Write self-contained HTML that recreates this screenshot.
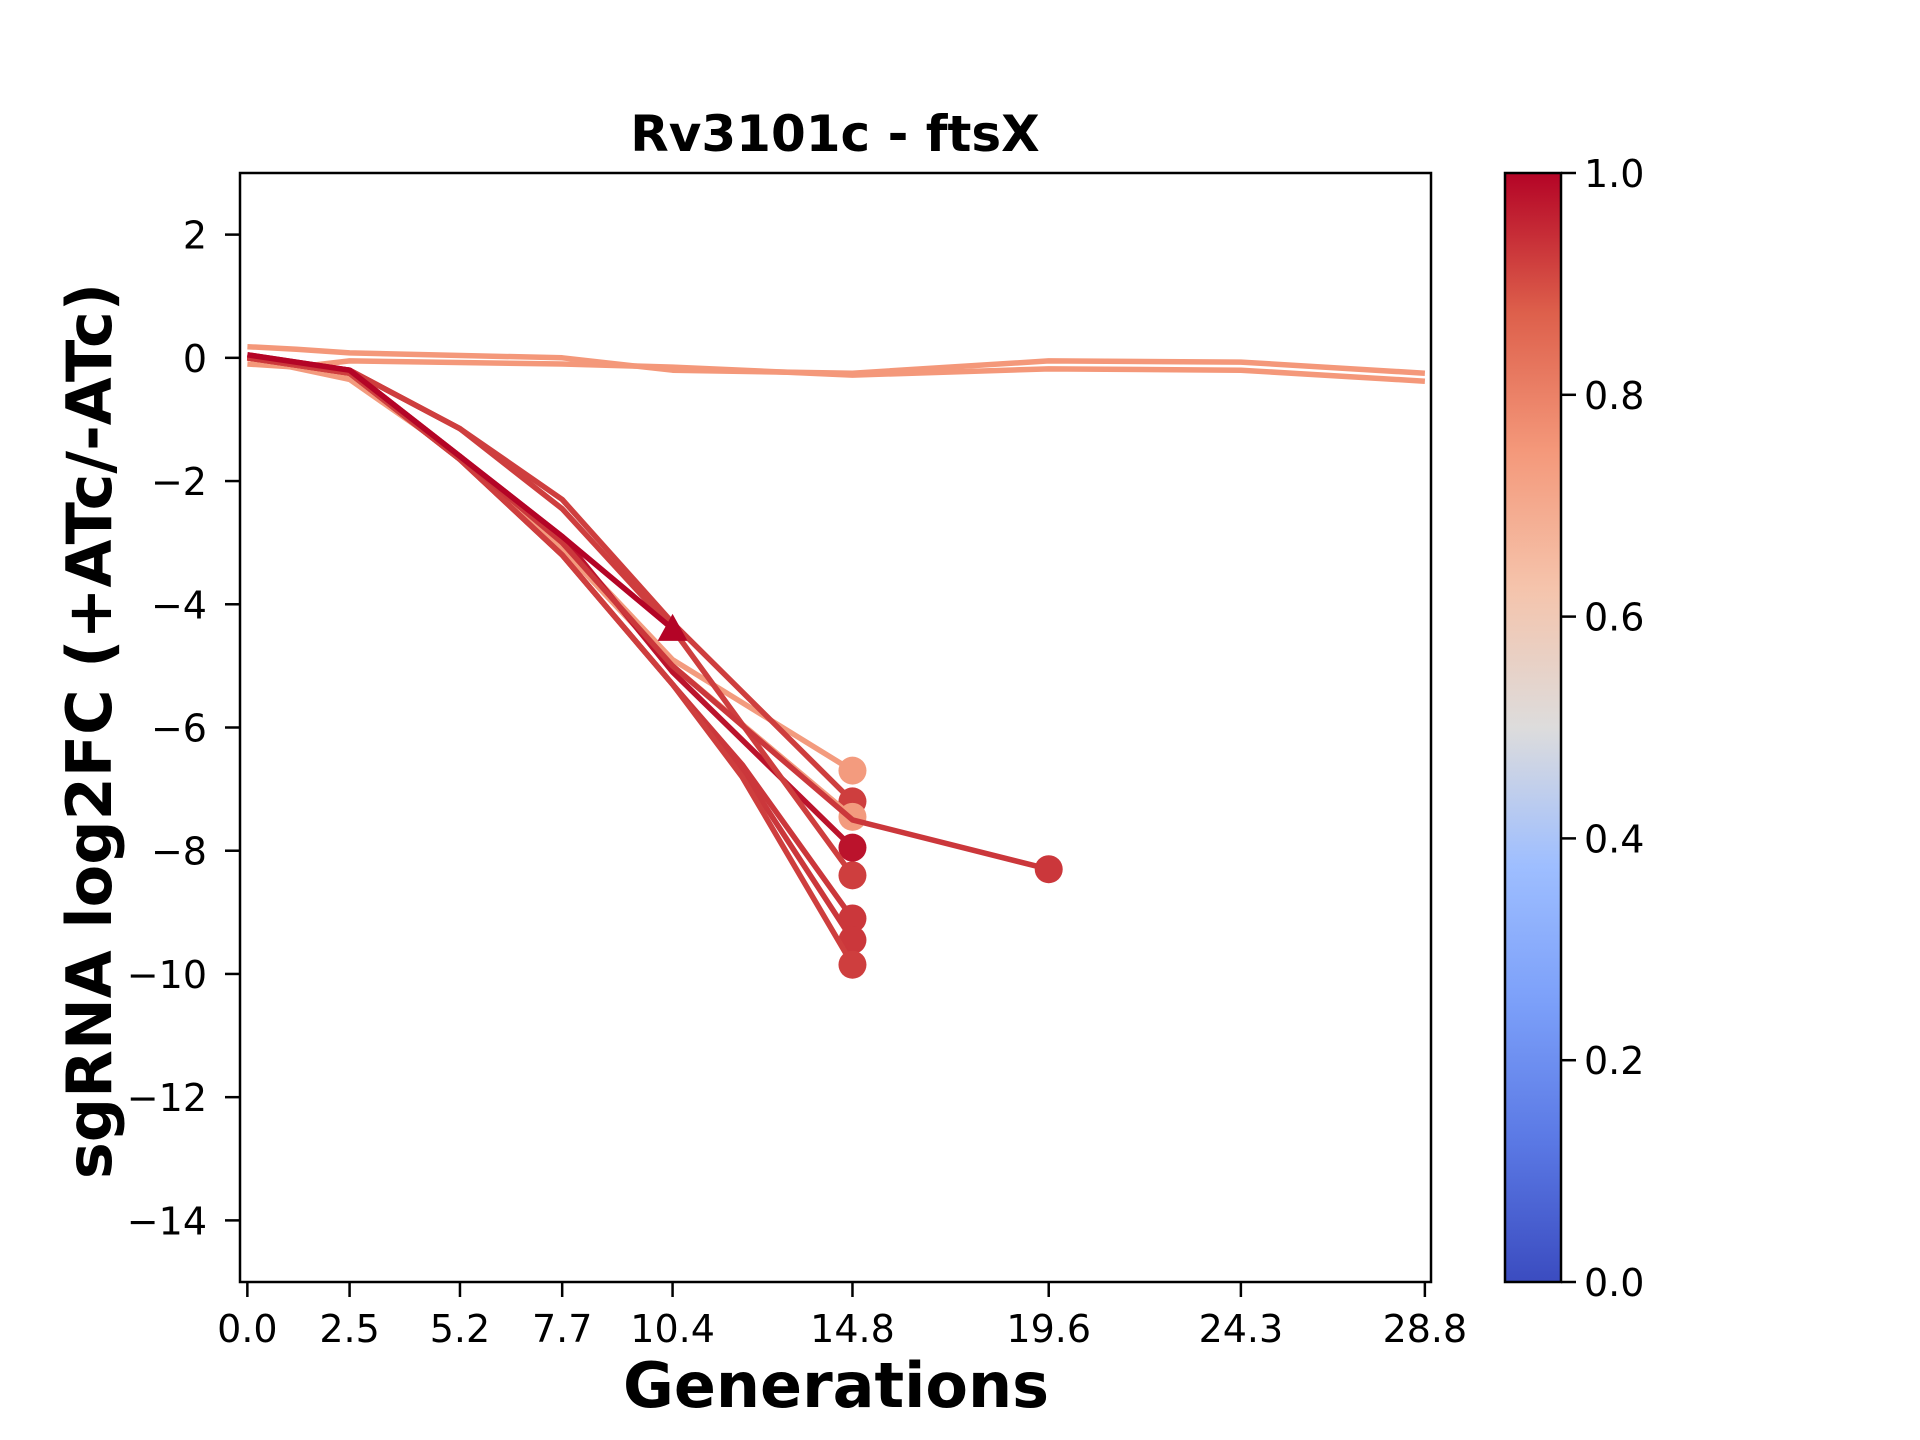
<!DOCTYPE html>
<html><head><meta charset="utf-8"><style>
html,body{margin:0;padding:0;background:#fff;}
svg{display:block;font-family:"DejaVu Sans","Liberation Sans",sans-serif;}
</style></head><body>
<svg id="chart" width="1920" height="1440" viewBox="0 0 1920 1440" xmlns="http://www.w3.org/2000/svg">
<defs>
<linearGradient id="cw" x1="0" y1="1" x2="0" y2="0">
<stop offset="0" stop-color="#3b4cc0"/><stop offset="0.125" stop-color="#5a78e4"/><stop offset="0.25" stop-color="#7b9ff9"/><stop offset="0.375" stop-color="#9ebeff"/><stop offset="0.5" stop-color="#dddcdc"/><stop offset="0.625" stop-color="#f5c4ac"/><stop offset="0.75" stop-color="#f4987a"/><stop offset="0.875" stop-color="#dd5f4b"/><stop offset="1" stop-color="#b40426"/>
</linearGradient>
<clipPath id="clip"><rect x="240" y="173" width="1191" height="1109"/></clipPath>
</defs>
<text x="835" y="151" text-anchor="middle" font-size="50" font-weight="bold">Rv3101c - ftsX</text>
<g id="plot" clip-path="url(#clip)"></g>
<rect x="240" y="173" width="1191" height="1109" fill="none" stroke="#000" stroke-width="2.5"/>
<g id="axes"></g>
<text transform="translate(111,731) rotate(-90)" text-anchor="middle" font-size="62" font-weight="bold">sgRNA log2FC (+ATc/-ATc)</text>
<text x="836" y="1407" text-anchor="middle" font-size="62" font-weight="bold">Generations</text>
<rect x="1505" y="173" width="56" height="1109" fill="url(#cw)" stroke="#000" stroke-width="2.5"/>
<g id="cbar"></g>
</svg>
<script>
const xTicks = [0.0, 2.5, 5.2, 7.7, 10.4, 14.8, 19.6, 24.3, 28.8];
const xTickLabels = ["0.0","2.5","5.2","7.7","10.4","14.8","19.6","24.3","28.8"];
const yTicks = [2, 0, -2, -4, -6, -8, -10, -12, -14];
const cbarTicks = [0.0, 0.2, 0.4, 0.6, 0.8, 1.0];
const seriesX = [
 [0,1.2,2.5,7.7,10.4,14.8,19.6,24.3,28.8],
 [0,1.2,2.5,7.7,10.4,14.8,19.6,24.3,28.8],
 [0,2.5,5.2,7.7,10.4,14.8],
 [0,2.5,5.2,7.7,10.4,14.8],
 [0,2.5,5.2,7.7,10.4,14.8],
 [0,2.5,5.2,7.7,10.4,14.8],
 [0,2.5,5.2,7.7,10.4,14.8],
 [0,2.5,5.2,7.7,10.4,12.1,14.8],
 [0,2.5,5.2,7.7,10.4,12.1,14.8],
 [0,2.5,5.2,7.7,10.4,12.1,14.8],
 [0,2.5,5.2,7.7,10.4,14.8,19.6],
 [0,2.5,5.2,7.7,10.4]
];
const seriesY = [
 [0.18,0.14,0.08,0.0,-0.2,-0.25,-0.05,-0.07,-0.25],
 [-0.1,-0.15,-0.05,-0.1,-0.15,-0.28,-0.18,-0.2,-0.38],
 [0,-0.3,-1.6,-3.0,-4.9,-6.7],
 [0,-0.2,-1.15,-2.3,-4.3,-7.2],
 [0,-0.35,-1.6,-3.1,-5.0,-7.45],
 [0.05,-0.2,-1.6,-2.9,-5.1,-7.95],
 [0,-0.2,-1.15,-2.45,-4.4,-8.4],
 [0,-0.25,-1.65,-3.2,-5.3,-6.6,-9.1],
 [0,-0.25,-1.65,-3.2,-5.3,-6.7,-9.45],
 [0,-0.25,-1.65,-3.2,-5.3,-6.8,-9.85],
 [0,-0.2,-1.6,-3.0,-5.0,-7.5,-8.3],
 [0.05,-0.2,-1.6,-2.9,-4.4]
];
const seriesScore = [0.75,0.75,0.74,0.92,0.74,0.98,0.92,0.93,0.93,0.92,0.93,1.0];
const seriesMarker = ["none","none","circle","circle","circle","circle","circle","circle","circle","circle","circle","triangle"];

const NS="http://www.w3.org/2000/svg";
const X0=240,X1=1431,Y0=173,Y1=1282,xmin=-0.18,xmax=28.95,ymin=-15,ymax=3;
function sx(v){return X0+(v-xmin)/(xmax-xmin)*(X1-X0);}
function sy(v){return Y1-(v-ymin)/(ymax-ymin)*(Y1-Y0);}
function cby(v){return Y1-v*(Y1-Y0);}
function color(s){
 const st=[[0,[59,76,192]],[0.25,[123,159,249]],[0.5,[221,220,220]],[0.75,[244,152,122]],[0.875,[221,95,75]],[1,[180,4,38]]];
 for(let i=1;i<st.length;i++){if(s<=st[i][0]){const a=st[i-1],b=st[i],t=(s-a[0])/(b[0]-a[0]);
  return "rgb("+a[1].map((c,k)=>Math.round(c+(b[1][k]-c)*t)).join(",")+")";}}
 return "rgb(180,4,38)";
}
function mk(tag,attrs,parent){const e=document.createElementNS(NS,tag);for(const k in attrs)e.setAttribute(k,attrs[k]);parent.appendChild(e);return e;}
const plot=document.getElementById("plot"),axes=document.getElementById("axes"),cbar=document.getElementById("cbar");
seriesX.forEach((xs,i)=>{
 const c=color(seriesScore[i]);
 const pts=xs.map((x,j)=>sx(x).toFixed(1)+","+sy(seriesY[i][j]).toFixed(1)).join(" ");
 const pl=mk("polyline",{points:pts,fill:"none",stroke:c,"stroke-width":5.5,"stroke-linejoin":"round"},plot);
 
 
 const lx=sx(xs[xs.length-1]),ly=sy(seriesY[i][xs.length-1]);
 if(seriesMarker[i]==="circle"){
  const m=mk("circle",{cx:lx,cy:ly,r:14,fill:c},plot);
  
  
 } else if(seriesMarker[i]==="triangle"){
  const m=mk("polygon",{points:`${lx},${ly-15} ${lx-15},${ly+12} ${lx+15},${ly+12}`,fill:c},plot);
  
  
 }
});
xTicks.forEach((v,i)=>{
 const x=sx(v);
 const t=mk("line",{x1:x,x2:x,y1:Y1,y2:Y1+15,stroke:"#000","stroke-width":2.5},axes);
 
 
 const l=mk("text",{x:x,y:Y1+60,"text-anchor":"middle","font-size":38},axes);
 l.textContent=xTickLabels[i];
 
 
});
yTicks.forEach(v=>{
 const y=sy(v);
 const t=mk("line",{x1:X0-15,x2:X0,y1:y,y2:y,stroke:"#000","stroke-width":2.5},axes);
 
 
 const l=mk("text",{x:X0-33,y:y+14,"text-anchor":"end","font-size":38},axes);
 l.textContent=(v<0?"\u2212"+Math.abs(v):String(v));
 
 
});
cbarTicks.forEach(v=>{
 const y=cby(v);
 const t=mk("line",{x1:1561,x2:1576,y1:y,y2:y,stroke:"#000","stroke-width":2.5},cbar);
 
 
 const l=mk("text",{x:1584,y:y+14,"font-size":38},cbar);
 l.textContent=v.toFixed(1);
 
 
});
</script>
</body></html>
